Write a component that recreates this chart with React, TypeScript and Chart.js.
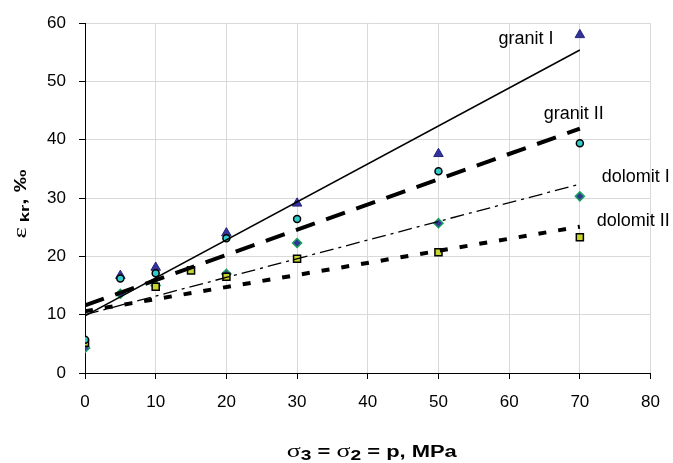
import React, { useEffect, useRef } from "react";
import { Chart, registerables } from "chart.js";

Chart.register(...registerables);

// ---- data ----
const pressureX = [0, 5, 10, 20, 30, 50, 70];
const granitI = [4.7, 16.7, 18.1, 24.0, 29.1, 37.6, 58.0];
const granitII = [5.7, 16.2, 17.1, 23.1, 26.4, 34.6, 39.4];
const dolomitI = [4.3, 13.6, 15.0, 17.0, 22.3, 25.7, 30.3];
const dolomitIIX = [0, 10, 15, 20, 30, 50, 70];
const dolomitII = [5.2, 14.8, 17.6, 16.5, 19.6, 20.7, 23.3];

// trend lines (endpoints at p = 0 and p = 70)
const trendX = [0, 70];
const granitITrend = [9.8, 55.4];
const granitIITrend = [11.6, 41.9];
const dolomitITrend = [10.0, 32.4];
const dolomitIITrend = [10.6, 25.1];

const seriesNames = ["granit I", "granit II", "dolomit I", "dolomit II"];
// label anchors in data units (left edge x, vertical centre y)
const labelAnchorX = [58.5, 64.9, 73.1, 72.4];
const labelAnchorY = [57.2, 44.5, 33.6, 26.0];

const xTickMin = 0;
const xTickMax = 80;
const xTickStep = 10;
const yTickMin = 0;
const yTickMax = 60;
const yTickStep = 10;

const SANS = "'Liberation Sans', Arial, Helvetica, sans-serif";
const SERIF = "'Liberation Serif', 'Times New Roman', serif";

type Seg = { t: string; font: string; dy: number };

const xTitle: Seg[] = [
  { t: "σ", font: `19px ${SERIF}`, dy: 0 },
  { t: "3", font: `bold 14px ${SANS}`, dy: 3 },
  { t: " = ", font: `bold 16px ${SANS}`, dy: 0 },
  { t: "σ", font: `19px ${SERIF}`, dy: 0 },
  { t: "2", font: `bold 14px ${SANS}`, dy: 3 },
  { t: " = p, MPa", font: `bold 16px ${SANS}`, dy: 0 },
];

const yTitle: Seg[] = [
  { t: "ε", font: `19px ${SERIF}`, dy: 0 },
  { t: " kr", font: `bold 13px ${SANS}`, dy: 3 },
  { t: ", ‰", font: `bold 16px ${SANS}`, dy: 0 },
];

function segWidth(ctx: CanvasRenderingContext2D, segs: Seg[]) {
  let w = 0;
  for (const s of segs) {
    ctx.font = s.font;
    w += ctx.measureText(s.t).width;
  }
  return w;
}

function drawRich(
  ctx: CanvasRenderingContext2D,
  segs: Seg[],
  cx: number,
  baseY: number,
  rot: number,
  targetW: number
) {
  const w = segWidth(ctx, segs);
  const sx = targetW / w;
  ctx.save();
  ctx.translate(cx, baseY);
  ctx.rotate(rot);
  ctx.scale(sx, 1);
  ctx.textAlign = "left";
  ctx.textBaseline = "alphabetic";
  ctx.fillStyle = "#000";
  let x = -w / 2;
  for (const s of segs) {
    ctx.font = s.font;
    ctx.fillText(s.t, x, s.dy);
    x += ctx.measureText(s.t).width;
  }
  ctx.restore();
}

const textPlugin = {
  id: "textPlugin",
  afterDraw(chart: any) {
    const ctx: CanvasRenderingContext2D = chart.ctx;
    const xs = chart.scales.x;
    const ys = chart.scales.y;
    // series labels
    ctx.save();
    ctx.font = `18px ${SANS}`;
    ctx.fillStyle = "#000";
    ctx.textAlign = "left";
    ctx.textBaseline = "middle";
    seriesNames.forEach((n, i) => {
      ctx.fillText(n, xs.getPixelForValue(labelAnchorX[i]), ys.getPixelForValue(labelAnchorY[i]));
    });
    ctx.restore();
    // axis titles
    const ca = chart.chartArea;
    drawRich(ctx, xTitle, (ca.left + ca.right) / 2 + 4, 457, 0, 170);
    drawRich(ctx, yTitle, 26, (ca.top + ca.bottom) / 2 + 6, -Math.PI / 2, 69);
  },
};

const pts = (xs: number[], ys: number[]) => xs.map((x, i) => ({ x, y: ys[i] }));

export default function App() {
  const ref = useRef<HTMLCanvasElement>(null);

  useEffect(() => {
    const canvas = ref.current!;
    Chart.defaults.font.family = SANS;
    const chart = new Chart(canvas, {
      type: "scatter",
      data: {
        datasets: [
          {
            label: "granit I trend",
            data: pts(trendX, granitITrend),
            showLine: true,
            borderColor: "#000",
            borderWidth: 1.5,
            pointRadius: 0,
          },
          {
            label: "granit II trend",
            data: pts(trendX, granitIITrend),
            showLine: true,
            borderColor: "#000",
            borderWidth: 4,
            borderDash: [20, 12],
            pointRadius: 0,
          },
          {
            label: "dolomit I trend",
            data: pts(trendX, dolomitITrend),
            showLine: true,
            borderColor: "#000",
            borderWidth: 1.3,
            borderDash: [14, 5, 3, 5],
            pointRadius: 0,
          },
          {
            label: "dolomit II trend",
            data: pts(trendX, dolomitIITrend),
            showLine: true,
            borderColor: "#000",
            borderWidth: 4,
            borderDash: [8, 12],
            pointRadius: 0,
          },
          {
            label: "granit II",
            data: pts(pressureX, granitII),
            pointStyle: "circle",
            pointRadius: 3.5,
            backgroundColor: "#33CCCC",
            borderColor: "#000",
            borderWidth: 1.5,
          },
          {
            label: "dolomit II",
            data: pts(dolomitIIX, dolomitII),
            pointStyle: "rect",
            pointRadius: 5,
            backgroundColor: "#C8D42E",
            borderColor: "#000",
            borderWidth: 1.5,
          },
          {
            label: "dolomit I",
            data: pts(pressureX, dolomitI),
            pointStyle: "rectRot",
            pointRadius: 4.5,
            backgroundColor: "#333399",
            borderColor: "#19A05A",
            borderWidth: 1.5,
          },
          {
            label: "granit I",
            data: pts(pressureX, granitI),
            pointStyle: "triangle",
            pointRadius: 5.5,
            backgroundColor: "#333399",
            borderColor: "#262680",
            borderWidth: 1,
          },
        ],
      },
      options: {
        animation: false,
        responsive: true,
        maintainAspectRatio: false,
        events: [],
        layout: { padding: { top: 20.5, right: 21, bottom: 0, left: 0 } },
        plugins: {
          legend: { display: false },
          tooltip: { enabled: false },
          title: { display: false },
        },
        scales: {
          x: {
            type: "linear",
            min: xTickMin,
            max: xTickMax,
            ticks: {
              stepSize: xTickStep,
              color: "#000",
              font: { size: 17, family: SANS },
              padding: 13,
              maxRotation: 0,
            },
            grid: { color: "#D9D9D9", lineWidth: 1, tickColor: "#000", tickLength: 6 },
            border: { color: "#000", width: 1 },
            afterFit: (s: any) => {
              s.height = 90;
            },
          },
          y: {
            type: "linear",
            min: yTickMin,
            max: yTickMax,
            ticks: {
              stepSize: yTickStep,
              color: "#000",
              font: { size: 17, family: SANS },
              padding: 13,
            },
            grid: { color: "#D9D9D9", lineWidth: 1, tickColor: "#000", tickLength: 6 },
            border: { color: "#000", width: 1 },
            afterFit: (s: any) => {
              s.width = 85;
            },
          },
        },
      },
      plugins: [textPlugin],
    });
    return () => chart.destroy();
  }, []);

  return (
    <div
      style={{
        position: "fixed",
        left: 0,
        top: 0,
        width: 673,
        height: 463,
        background: "#fff",
      }}
    >
      <canvas ref={ref} />
    </div>
  );
}
